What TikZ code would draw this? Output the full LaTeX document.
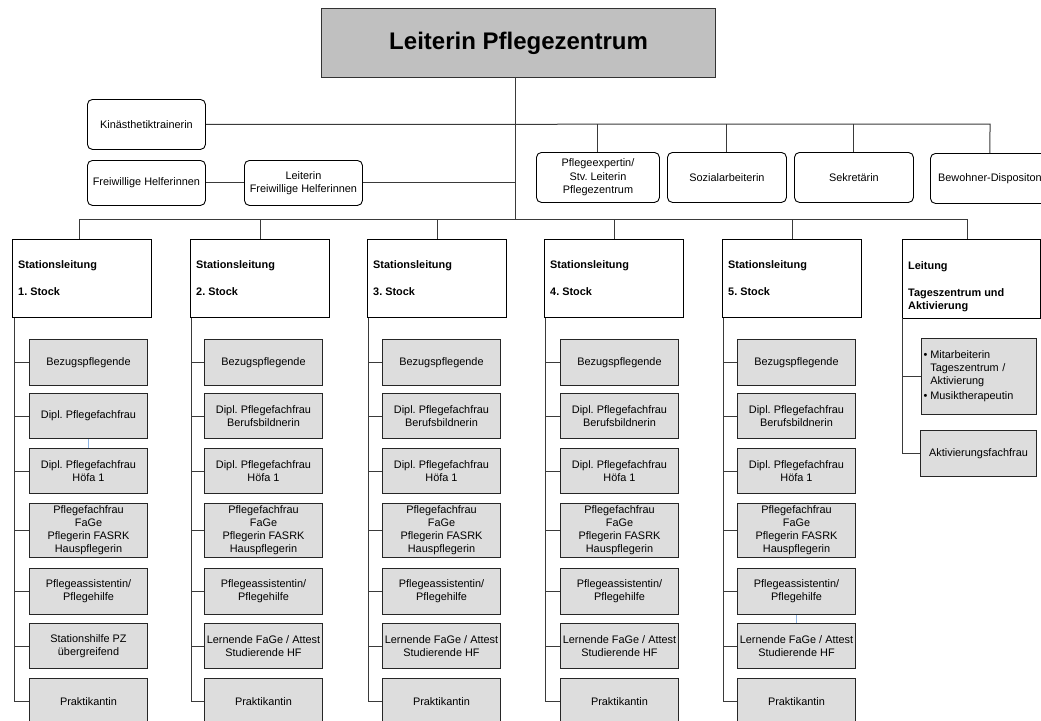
\documentclass[tikz,border=0pt]{standalone}
\usepackage{fontspec}
\setmainfont{Liberation Sans}
\usetikzlibrary{calc}
\definecolor{subfill}{HTML}{DDDDDD}
\definecolor{topfill}{HTML}{C0C0C0}
\definecolor{linec}{HTML}{3A3A3A}
\definecolor{bluel}{HTML}{8EB4E3}
\frenchspacing
\begin{document}
\begin{tikzpicture}[x=1pt,y=-1pt,
  conn/.style={draw=linec, line width=1pt},
  blueconn/.style={draw=bluel, line width=1pt},
  sz/.style 2 args={minimum width=#1, minimum height=#2},
  topbox/.style={draw=black!80, fill=topfill, line width=1.2pt, anchor=north west, inner sep=0pt, font=\fontsize{24}{28}\selectfont\bfseries},
  rbox/.style={draw=black, rounded corners=5pt, line width=0.9pt, anchor=north west, inner sep=0pt, align=center, font=\fontsize{10.9}{13.5}\selectfont},
  stbox/.style={draw=black, line width=1pt, anchor=north west, inner sep=0pt},
  stl/.style={anchor=base west, inner sep=0pt, font=\fontsize{10.9}{13}\selectfont\bfseries},
  subbox/.style={draw=black!85, fill=subfill, line width=1pt, anchor=north west, inner sep=0pt, align=center, font=\fontsize{10.9}{13}\selectfont},
]
\useasboundingbox (0,0) rectangle (1041,720);

% top
\node[topbox, sz={394}{69}] (top) at (321,8) {Leiterin Pflegezentrum};
\coordinate (trunktop) at (515,77);
\coordinate (trunkbot) at (515,219);

% staff row
\node[rbox, sz={118}{50}] (kin) at (87,99) {Kinästhetiktrainerin};
\node[rbox, sz={118}{45}] (fh) at (87,160) {Freiwillige Helferinnen};
\node[rbox, sz={118}{45}] (lfh) at (244,160) {Leiterin\\Freiwillige Helferinnen};
\node[rbox, sz={123}{50}] (pe) at (536,152) {Pflegeexpertin/\\Stv. Leiterin\\Pflegezentrum};
\node[rbox, sz={119}{50}] (soz) at (667,152) {Sozialarbeiterin};
\node[rbox, sz={119}{50}] (sek) at (794,152) {Sekretärin};
\node[rbox, sz={119}{50}] (bew) at (930,153) {Bewohner-Dispositon};

\draw[conn] (trunktop) -- (trunkbot);
\coordinate (kinend) at (990,124);
\draw[conn] (kin.east) -- (kinend) -- (bew.north);
\draw[conn] (pe.north) -- (pe.north |- kinend);
\draw[conn] (soz.north) -- (soz.north |- kinend);
\draw[conn] (sek.north) -- (sek.north |- kinend);
\draw[conn] (fh.east) -- (lfh.west);
\draw[conn] (lfh.east) -- (lfh.east -| trunktop);

% stations
\node[stbox, sz={139}{78}] (s1) at (12,239) {};
\node[stbox, sz={139}{78}] (s2) at (190,239) {};
\node[stbox, sz={139}{78}] (s3) at (367,239) {};
\node[stbox, sz={139}{78}] (s4) at (544,239) {};
\node[stbox, sz={139}{78}] (s5) at (722,239) {};
\node[stbox, sz={138}{79}] (s6) at (902,239) {};

\node[stl] (s1a) at (18,268) {Stationsleitung};
\node[stl] (s1b) at (18,295) {1. Stock};
\node[stl] (s2a) at (196,268) {Stationsleitung};
\node[stl] (s2b) at (196,295) {2. Stock};
\node[stl] (s3a) at (373,268) {Stationsleitung};
\node[stl] (s3b) at (373,295) {3. Stock};
\node[stl] (s4a) at (550,268) {Stationsleitung};
\node[stl] (s4b) at (550,295) {4. Stock};
\node[stl] (s5a) at (728,268) {Stationsleitung};
\node[stl] (s5b) at (728,295) {5. Stock};
\node[stl] (s6a) at (908,269) {Leitung};
\node[stl] (s6b) at (908,296) {Tageszentrum und};
\node[stl] (s6c) at (908,309) {Aktivierung};

\coordinate (barL) at (79,219);
\coordinate (barR) at (967,219);
\draw[conn] (barL) -- (barR);
\draw[conn] (barL) -- (barL |- s1.north);
\draw[conn] (s2.north |- barL) -- (s2.north);
\draw[conn] (s3.north |- barL) -- (s3.north);
\draw[conn] (s4.north |- barL) -- (s4.north);
\draw[conn] (s5.north |- barL) -- (s5.north);
\draw[conn] (barR) -- (barR |- s6.north);

% sub boxes
\foreach \c/\sx/\vx in {1/29/14, 2/204/191, 3/382/368, 4/560/545, 5/737/723} {
  \node[subbox, sz={118}{46}] (b\c r1) at (\sx,339) {Bezugspflegende};
  \node[subbox, sz={118}{45}] (b\c r3) at (\sx,448) {Dipl. Pflegefachfrau\\Höfa 1};
  \node[subbox, sz={118}{54}] (b\c r4) at (\sx,503) {Pflegefachfrau\\FaGe\\Pflegerin FASRK\\Hauspflegerin};
  \node[subbox, sz={118}{46}] (b\c r5) at (\sx,568) {Pflegeassistentin/\\Pflegehilfe};
  \node[subbox, sz={118}{46}] (b\c r7) at (\sx,678) {Praktikantin};
  \coordinate (v\c top) at (\vx,318);
}
\node[subbox, sz={118}{45}] (b1r2) at (29,393) {Dipl. Pflegefachfrau};
\node[subbox, sz={118}{45}] (b1r6) at (29,623) {Stationshilfe PZ\\übergreifend};
\foreach \c/\sx in {2/204, 3/382, 4/560, 5/737} {
  \node[subbox, sz={118}{45}] (b\c r2) at (\sx,393) {Dipl. Pflegefachfrau\\Berufsbildnerin};
  \node[subbox, sz={118}{45}] (b\c r6) at (\sx,623) {Lernende FaGe / Attest\\Studierende HF};
}
\foreach \c in {1,2,3,4,5} {
  \draw[conn] (v\c top) -- (v\c top |- b\c r7.west) -- (b\c r7.west);
  \foreach \r in {1,2,3,4,5,6} {
    \draw[conn] (v\c top |- b\c r\r.west) -- (b\c r\r.west);
  }
}
\draw[blueconn] (b1r2.south) -- (b1r3.north);
\draw[blueconn] (b5r5.south) -- (b5r6.north);

% Tageszentrum column
\node[subbox, sz={115}{76}, text width=111, inner xsep=2pt, align=left] (t1) at (921,338)
  {\begin{tabular}{@{}l@{\hspace{3pt}}l@{}}\textbullet & Mitarbeiterin\\ & Tageszentrum /\\ & Aktivierung\\[2pt] \textbullet & Musiktherapeutin\end{tabular}};
\node[subbox, sz={116}{46}] (t2) at (920,430) {Aktivierungsfachfrau};
\coordinate (v6top) at (902,318);
\draw[conn] (v6top) -- (v6top |- t2.west) -- (t2.west);
\draw[conn] (v6top |- t1.west) -- (t1.west);
\end{tikzpicture}
\end{document}
